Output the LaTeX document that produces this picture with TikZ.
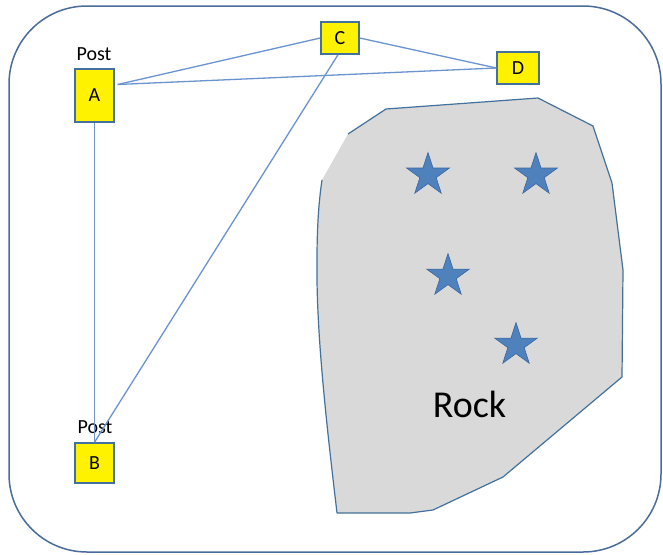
\documentclass[tikz,border=0pt]{standalone}
\usepackage{fontspec}
\usetikzlibrary{shapes.geometric}
\setmainfont{Carlito}
\definecolor{frame}{HTML}{4A6C9B}
\definecolor{wire}{HTML}{6A93CF}
\definecolor{postedge}{HTML}{41719C}
\definecolor{rockfill}{HTML}{D9D9D9}
\definecolor{rockedge}{HTML}{41719C}
\definecolor{starfill}{HTML}{4F81BD}
\definecolor{staredge}{HTML}{3A66A0}
\tikzset{
  post/.style={draw=postedge, line width=1.4pt, fill=yellow, inner sep=0pt,
    font=\fontsize{20}{20}\selectfont},
  wirestyle/.style={draw=wire, line width=1.3pt},
  postlabel/.style={font=\fontsize{20}{20}\selectfont, inner sep=0pt, anchor=base},
  gem/.style={star, star points=5, star point ratio=2.618, minimum size=45pt,
    inner sep=0pt, fill=starfill, draw=staredge, line width=0.6pt},
}
\begin{document}
\begin{tikzpicture}[x=1pt, y=-1pt]
  \useasboundingbox (0,0) rectangle (663,554);
  % outer enclosure
  \draw[frame, line width=1.5pt, rounded corners=78pt] (9,6) rectangle (661,552);

  % the rock: grey fill, outline left open on the upper-left edge
  \fill[rockfill] (348,134) -- (386,109) -- (538,98) -- (593,126) -- (612,183)
    -- (623,270) -- (622,377) -- (503,477) -- (433,510) -- (410,513) -- (337,513)
    .. controls (326,420) and (316,330) .. (317,260)
    .. controls (317,225) and (319,200) .. (322,180) -- cycle;
  \draw[rockedge, line width=1.2pt, line join=round] (348,134) -- (386,109) -- (538,98) -- (593,126) -- (612,183)
    -- (623,270) -- (622,377) -- (503,477) -- (433,510) -- (410,513) -- (337,513)
    .. controls (326,420) and (316,330) .. (317,260)
    .. controls (317,225) and (319,200) .. (322,180);

  % stars
  \node[gem] (s1) at (428,175) {};
  \node[gem] (s2) at (536,175) {};
  \node[gem] (s3) at (448,276) {};
  \node[gem] (s4) at (516,345) {};
  \node[font=\fontsize{38}{38}\selectfont, anchor=base] (rock) at (469.5,417) {Rock};

  % posts
  \node[post, minimum width=39pt, minimum height=53pt] (A) at (94.5,95.5) {A};
  \node[post, minimum width=39pt, minimum height=40pt] (B) at (94.5,463) {B};
  \node[post, minimum width=38pt, minimum height=32pt] (C) at (340,38) {C};
  \node[post, minimum width=42pt, minimum height=32pt] (D) at (518,68) {D};
  \node[postlabel] (postA) at (94,60) {Post};
  \node[postlabel] (postB) at (95,433) {Post};

  % connecting lines
  \coordinate (aTie) at ([shift={(3,-11)}]A.east);
  \coordinate (cFoot) at ([xshift=-2pt]C.south);
  \draw[wirestyle] (aTie) -- (C.west);
  \draw[wirestyle] (aTie) -- (D.west);
  \draw[wirestyle] (C.east) -- (D.west);
  \draw[wirestyle] (A.south) -- (B.north);
  \draw[wirestyle] (cFoot) -- (B.north);
\end{tikzpicture}
\end{document}
